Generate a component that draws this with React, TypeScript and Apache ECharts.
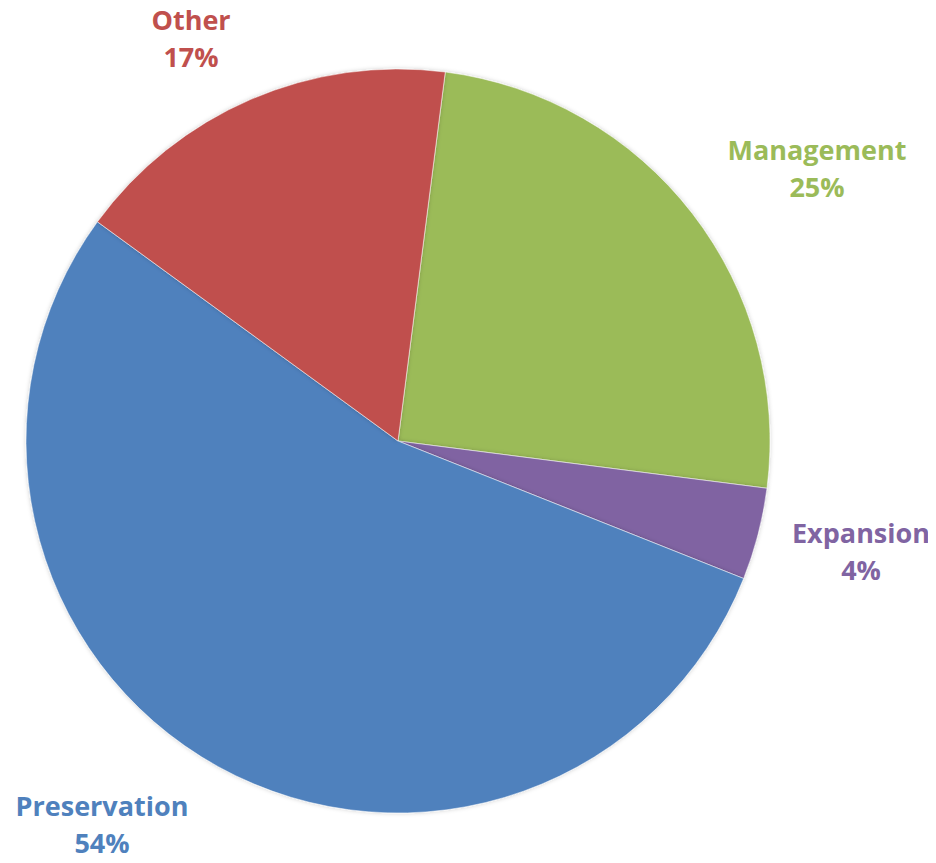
import React, { useEffect, useRef } from "react";
import * as echarts from "echarts";

const categories = ["Management", "Expansion", "Preservation", "Other"];
const values = [25, 4, 54, 17];
const colors = ["#9BBB59", "#8064A2", "#4F81BD", "#C0504D"];
const labelCenters = [
  [809, 160],
  [853, 543],
  [94, 816],
  [183, 30],
];

export default function App() {
  const ref = useRef<HTMLDivElement>(null);
  useEffect(() => {
    if (!ref.current) return;
    const chart = echarts.init(ref.current, undefined, { renderer: "svg" });
    chart.setOption({
      animation: false,
      backgroundColor: "#ffffff",
      series: [
        {
          type: "pie",
          center: [390, 433],
          radius: [0, 372],
          startAngle: 82.7,
          clockwise: true,
          data: categories.map((name, i) => ({
            name,
            value: values[i],
            itemStyle: { color: colors[i] },
            label: { color: colors[i] },
          })),
          itemStyle: {
            borderColor: "rgba(255,255,255,0.5)",
            borderWidth: 1,
            shadowColor: "rgba(0,0,0,0.2)",
            shadowBlur: 4,
          },
          label: {
            show: true,
            position: "outside",
            formatter: "{b}\n{d}%",
            fontFamily: "Open Sans",
            fontWeight: "bold",
            fontSize: 27,
            lineHeight: 37,
            align: "center",
            overflow: "none",
            width: 300,
          },
          labelLine: { show: false },
          labelLayout: (params: any) => ({
            x: labelCenters[params.dataIndex][0],
            y: labelCenters[params.dataIndex][1],
            align: "center",
            verticalAlign: "middle",
            hideOverlap: false,
          }),
        },
      ],
    });
    return () => chart.dispose();
  }, []);
  return <div ref={ref} style={{ width: 928, height: 855 }} />;
}
